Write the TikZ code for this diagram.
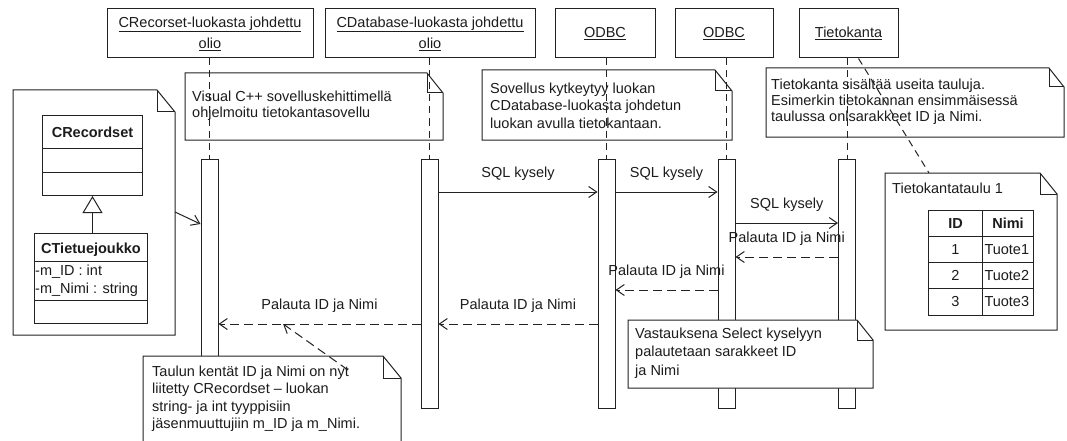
\documentclass[tikz,border=0pt]{standalone}
\usepackage{fontspec}
\setmainfont{Liberation Sans}
\usetikzlibrary{arrows.meta,calc}

\definecolor{ink}{RGB}{34,34,34}
\definecolor{txt}{RGB}{28,28,28}

% UML note with a folded corner: name, left, top, right, bottom, fold size
\newcommand{\umlnote}[6]{%
  \node[notebody, minimum width={#4-#2}, minimum height={#5-#3}] (#1) at (#2,#3) {};
  \path[notefill] (#1.north west) -- ([xshift=-#6pt]#1.north east)
     -- ([yshift=-#6pt-4pt]#1.north east) -- (#1.south east) -- (#1.south west) -- cycle;
  \draw[outline] ([xshift=-#6pt]#1.north east) |- ([yshift=-#6pt-4pt]#1.north east);
}

\begin{document}
\begin{tikzpicture}[x=1pt,y=-1pt,
  every node/.style={text=txt, font=\fontsize{14.5}{17}\selectfont},
  outline/.style={draw=ink, line width=1pt},
  notefill/.style={outline, fill=white},
  notebody/.style={anchor=north west, inner sep=0pt, outer sep=0pt, draw=none},
  notetext/.style={anchor=north west, inner sep=0pt, align=left},
  head/.style={outline, fill=white, minimum height=49pt, inner sep=0pt, align=center,
    font=\fontsize{14.5}{21}\selectfont},
  actbar/.style={outline, fill=white, minimum width=17pt, inner sep=0pt, anchor=north},
  lifeline/.style={outline, dash pattern=on 7pt off 5pt},
  msg/.style={outline, -{Straight Barb[length=8pt,width=11pt]}},
  reply/.style={msg, dash pattern=on 9pt off 5pt},
  lbl/.style={midway, anchor=base, yshift=15pt, inner sep=0pt},
  cls/.style={outline, fill=white, anchor=north west, inner sep=0pt},
  cell/.style={outline, anchor=north west, inner sep=0pt, minimum height=26pt},
]
\useasboundingbox (0,0) rectangle (1067,441);
\fill[white] (0,0) rectangle (1067,441);
\clip (0,0) rectangle (1067,441);

% object heads
\node[head, minimum width=206pt] (h1) at (210,33.5) {\underline{CRecorset-luokasta johdettu}\\\underline{olio}};
\node[head, minimum width=210pt] (h2) at (430,33.5) {\underline{CDatabase-luokasta johdettu}\\\underline{olio}};
\node[head, minimum width=100pt] (h3) at (605,33.5) {\underline{ODBC}};
\node[head, minimum width=98pt]  (h4) at (724,33.5) {\underline{ODBC}};
\node[head, minimum width=99pt]  (h5) at (848.5,33.5) {\underline{Tietokanta}};

% upper notes (lifelines run across them)
\umlnote{n1}{185}{73}{443}{140}{16}
\node[notetext, font=\fontsize{14.5}{16}\selectfont] (t1) at ($(n1.north west)+(7,18)$)
  {Visual C++ sovelluskehittimellä\\ohjelmoitu tietokantasovellu};
\umlnote{n2}{482}{70}{732}{140}{17}
\node[notetext, font=\fontsize{14.5}{17.5}\selectfont] (t2) at ($(n2.north west)+(8,12.6)$)
  {Sovellus kytkeytyy luokan\\CDatabase-luokasta johdetun\\luokan avulla tietokantaan.};
\umlnote{n3}{766}{68}{1064}{137}{15}
\node[notetext, font=\fontsize{14.5}{16}\selectfont] (t3) at ($(n3.north west)+(5,10.6)$)
  {Tietokanta sisältää useita tauluja.\\Esimerkin tietokannan ensimmäisessä\\taulussa onlsarakkeet ID ja Nimi.};

% activation bars
\node[actbar, minimum height=300pt] (b1) at (209.5,159) {};
\node[actbar, minimum height=249pt] (b2) at (429.5,159) {};
\node[actbar, minimum height=249pt] (b3) at (606.5,159) {};
\node[actbar, minimum height=249pt] (b4) at (726.5,159) {};
\node[actbar, minimum height=249pt] (b5) at (847,159) {};

% lifelines
\foreach \i in {1,...,5}{
  \draw[lifeline] (h\i.south -| b\i.north) -- (b\i.north);
}

% messages
\draw[msg] (b2.east |- 0,192) -- (b3.west |- 0,192) node[lbl] {SQL kysely};
\draw[msg] (b3.east |- 0,192) -- (b4.west |- 0,192) node[lbl] {SQL kysely};
\draw[msg] (b4.east |- 0,223) -- (b5.west |- 0,223) node[lbl] {SQL kysely};
\draw[reply] (b5.west |- 0,257) -- (b4.east |- 0,257) node[lbl] {Palauta ID ja Nimi};
\draw[reply] (b4.west |- 0,290) -- (b3.east |- 0,290) node[lbl] {Palauta ID ja Nimi};
\draw[reply] (b3.west |- 0,324) -- (b2.east |- 0,324) node[lbl] {Palauta ID ja Nimi};
\draw[reply] (b2.west |- 0,324) -- (b1.east |- 0,324) node[lbl] {Palauta ID ja Nimi}
  coordinate[pos=0.68] (r4a);

% class diagram note
\umlnote{n5}{13}{90}{175}{335}{18}
\node[cls, minimum width=100pt, minimum height=80pt] (crs) at (42,115) {};
\node[inner sep=0pt, font=\bfseries\fontsize{14.5}{17}\selectfont] (crsname) at ($(crs.north)+(0,17)$) {CRecordset};
\draw[outline] (crs.west |- 0,148) -- (crs.east |- 0,148);
\draw[outline] (crs.west |- 0,172) -- (crs.east |- 0,172);
\node[cls, minimum width=113pt, minimum height=90pt] (ctj) at (34,233) {};
\node[inner sep=0pt, anchor=base, font=\bfseries\fontsize{14.5}{17}\selectfont] (ctjname) at ($(ctj.north)+(0,20)$) {CTietuejoukko};
\draw[outline] (ctj.west |- 0,261) -- (ctj.east |- 0,261);
\draw[outline] (ctj.west |- 0,300) -- (ctj.east |- 0,300);
\node[notetext, font=\fontsize{14.5}{18}\selectfont] (ctjattr) at (35,265) {-m\_ID : int\\-m\_Nimi : string};
\draw[outline, -{Triangle[open, length=17pt, width=20pt]}] (crs.south |- ctj.north) -- (crs.south);
\draw[msg] (n5.east |- 0,212) -- (b1.west |- 0,224);

% database table note
\umlnote{n4}{885}{173}{1057}{330}{17}
\node[notetext] (t4) at ($(n4.north west)+(7,10)$) {Tietokantataulu 1};
\node[cell, minimum width=54pt] (c11) at (928,210) {\bfseries ID};
\node[cell, minimum width=51pt] (c12) at (982,210) {\bfseries Nimi};
\node[cell, minimum width=54pt] (c21) at (928,236) {1};
\node[cell, text width=47pt, inner xsep=2pt, align=left] (c22) at (982,236) {Tuote1};
\node[cell, minimum width=54pt] (c31) at (928,262) {2};
\node[cell, text width=47pt, inner xsep=2pt, align=left] (c32) at (982,262) {Tuote2};
\node[cell, minimum width=54pt, minimum height=27pt] (c41) at (928,288) {3};
\node[cell, text width=47pt, inner xsep=2pt, align=left, minimum height=27pt] (c42) at (982,288) {Tuote3};

% lower notes
\umlnote{n7}{628}{320}{873}{388}{16}
\node[notetext, font=\fontsize{14.5}{18.5}\selectfont] (t7) at ($(n7.north west)+(7,7.6)$)
  {Vastauksena Select kyselyyn\\palautetaan sarakkeet ID\\ja Nimi};
\umlnote{n6}{143}{356}{401}{470}{18}
\node[notetext, font=\fontsize{14.5}{17.5}\selectfont] (t6) at ($(n6.north west)+(9,9.6)$)
  {Taulun kentät ID ja Nimi on nyt\\liitetty CRecordset – luokan\\string- ja int tyyppisiin\\jäsenmuuttujiin m\_ID ja m\_Nimi.};

% note anchors
\draw[reply] ($(n6.north west)+(205,14)$) -- (r4a);
\draw[lifeline] ($(h5.south)+(10,0)$) -- ($(n4.north west)+(44,0)$);
\end{tikzpicture}
\end{document}
